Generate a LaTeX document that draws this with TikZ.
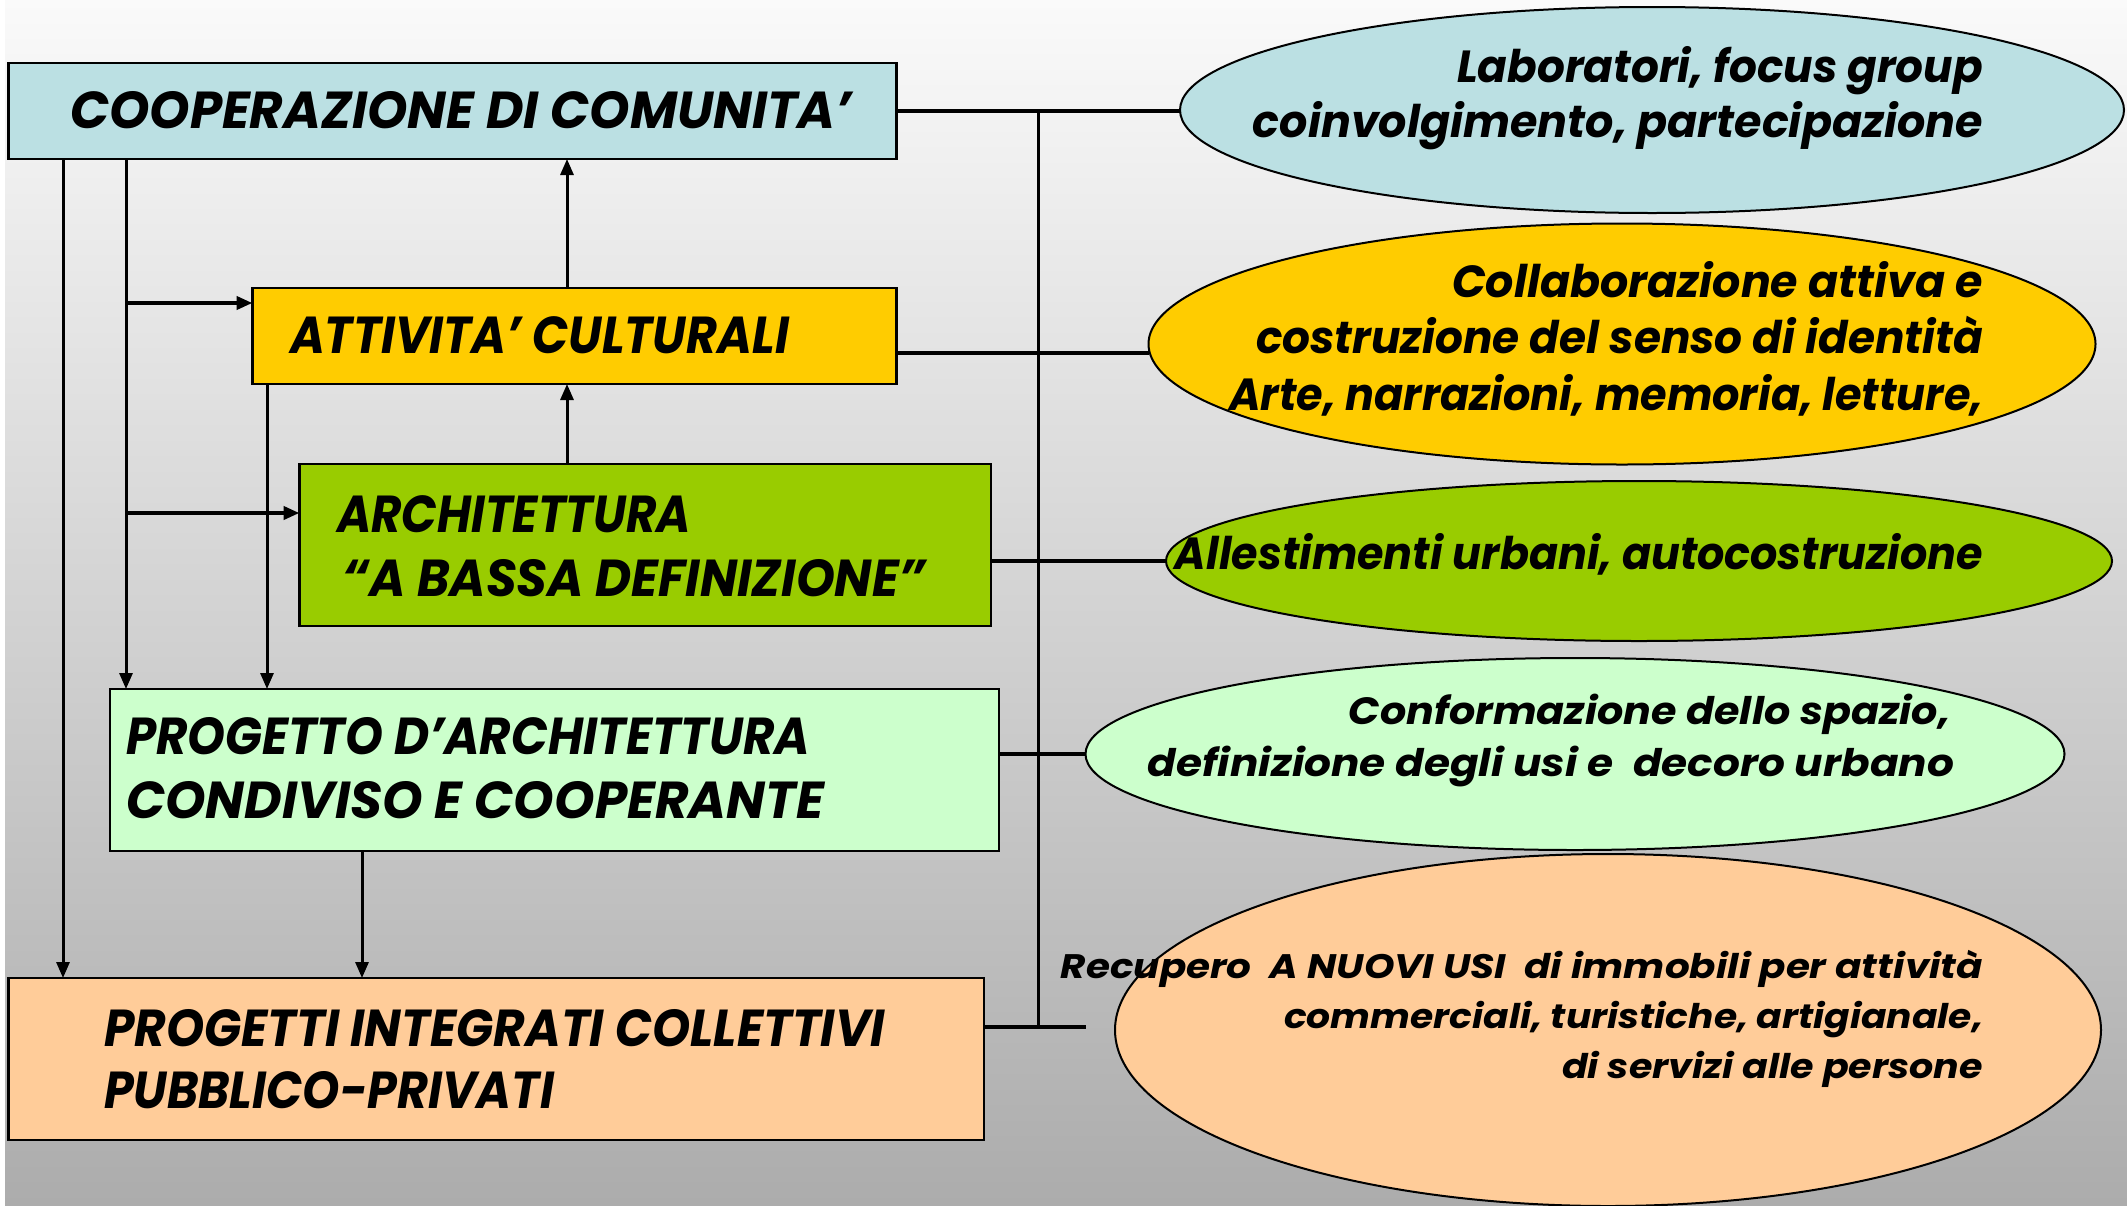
\documentclass[tikz,border=0pt]{standalone}
\usepackage{fontspec}
\setmainfont{Poppins}
\usetikzlibrary{arrows.meta,shapes.geometric}
\newcommand\fw[2]{\resizebox{#1pt}{\height}{#2}}
\definecolor{coopc}{RGB}{187,224,227}
\definecolor{attc}{RGB}{255,204,0}
\definecolor{archc}{RGB}{153,204,0}
\definecolor{progc}{RGB}{204,255,204}
\definecolor{picc}{RGB}{255,204,153}
\begin{document}
\begin{tikzpicture}[x=1pt,y=-1pt,
  every node/.style={inner sep=0pt, outer sep=0pt},
  box/.style={draw=black, line width=2.5pt, anchor=north west},
  oval/.style={ellipse, draw=black, line width=2pt},
  bt/.style={font=\fontsize{52}{62}\selectfont\bfseries\itshape},
  et/.style={font=\fontsize{45}{54}\selectfont\bfseries\itshape, anchor=base east},
  ft/.style={font=\fontsize{38}{46}\selectfont\bfseries\itshape, anchor=base east},
  gt/.style={font=\fontsize{34}{40}\selectfont\bfseries\itshape, anchor=base east},
  ln/.style={line width=3pt},
  thk/.style={line width=4pt},
  hv/.style={line width=4pt},
  tip/.style={-{Triangle[length=16pt,width=13pt]}}
]
\useasboundingbox (0,0) rectangle (2127,1205);
\fill[top color={rgb,255:red,250;green,250;blue,250}, middle color={rgb,255:red,224;green,224;blue,224}, bottom color={rgb,255:red,172;green,172;blue,172}] (5,0) rectangle (2127,1205);
\fill[white] (0,0) rectangle (5,1205);

% boxes
\node[box, fill=coopc, minimum width=888pt, minimum height=96pt] (coop) at (8.5,63) {};
\node[box, fill=attc, minimum width=644pt, minimum height=96pt] (att) at (252.5,288) {};
\node[box, fill=archc, minimum width=691.5pt, minimum height=162pt] (arch) at (299.5,464) {};
\node[box, fill=progc, minimum width=889pt, minimum height=162pt] (prog) at (110,689) {};
\node[box, fill=picc, minimum width=975.5pt, minimum height=162pt] (pic) at (8.5,978) {};

% box texts
\node[bt, anchor=base west] (coopT) at (70,128) {\fw{782}{COOPERAZIONE DI COMUNITA’}};
\node[bt, anchor=base west] (attT) at (290,353) {\fw{499}{ATTIVITA’ CULTURALI}};
\node[bt, anchor=base west] (archT1) at (337,532) {\fw{354}{ARCHITETTURA}};
\node[bt, anchor=base west] (archT2) at (342,596) {\fw{584}{“A BASSA DEFINIZIONE”}};
\node[bt, anchor=base west] (progT1) at (126,754) {\fw{684}{PROGETTO D’ARCHITETTURA}};
\node[bt, anchor=base west] (progT2) at (126,818) {\fw{698}{CONDIVISO E COOPERANTE}};
\node[bt, anchor=base west] (picT1) at (104,1046) {\fw{781}{PROGETTI INTEGRATI COLLETTIVI}};
\node[bt, anchor=base west] (picT2) at (104,1108) {\fw{450}{PUBBLICO-PRIVATI}};

% ellipses
\node[oval, fill=coopc, minimum width=944pt, minimum height=206pt] (e1) at (1652,110) {};
\node[oval, fill=attc, minimum width=947pt, minimum height=241pt] (e2) at (1622,344) {};
\node[oval, fill=archc, minimum width=946pt, minimum height=160pt] (e3) at (1639,561) {};
\node[oval, fill=progc, minimum width=979pt, minimum height=192pt] (e4) at (1575,754) {};
\node[oval, fill=picc, minimum width=986pt, minimum height=352pt] (e5) at (1608,1030) {};

% ellipse texts
\node[et] (e1a) at (1983,82) {\fw{526}{Laboratori, focus group}};
\node[et] (e1b) at (1983,137) {\fw{730}{coinvolgimento, partecipazione}};
\node[et] (e2a) at (1983,297) {\fw{531}{Collaborazione attiva e}};
\node[et] (e2b) at (1983,353) {\fw{727}{costruzione del senso di identità}};
\node[et] (e2c) at (1983,410) {\fw{754}{Arte, narrazioni, memoria, letture,}};
\node[et] (e3a) at (1983,569) {\fw{808}{Allestimenti urbani, autocostruzione}};
\node[ft] (e4a) at (1950,724) {\fw{601}{Conformazione dello spazio,}};
\node[ft] (e4b) at (1954,776) {\fw{806}{definizione degli usi e\ \ decoro urbano}};
\node[gt] (e5a) at (1983,978) {\fw{922}{Recupero\ \ A NUOVI USI\ \ di immobili per attività}};
\node[gt] (e5b) at (1983,1028) {\fw{699}{commerciali, turistiche, artigianale,}};
\node[gt] (e5c) at (1983,1078) {\fw{421}{di servizi alle persone}};

% helper coordinates
\coordinate (xa) at (63,0);
\coordinate (xb) at (126,0);
\coordinate (xc) at (267,0);
\coordinate (xd) at (567,0);
\coordinate (xe) at (362,0);
\coordinate (bus) at (1038,0);
\coordinate (ya) at (0,303);
\coordinate (yb) at (0,513);
\coordinate (yc) at (0,353);
\coordinate (pend) at (1086,1027);

% left connectors
\draw[ln, tip] (xa |- coop.south) -- (xa |- pic.north);
\draw[ln, tip] (xb |- coop.south) -- (xb |- prog.north);
\draw[thk, tip] (xb |- ya) -- (att.west |- ya);
\draw[thk, tip] (xb |- yb) -- (arch.west |- yb);
\draw[ln, tip] (xc |- att.south) -- (xc |- prog.north);
\draw[ln, tip] (att.north -| xd) -- (coop.south -| xd);
\draw[ln, tip] (arch.north -| xd) -- (att.south -| xd);
\draw[ln, tip] (xe |- prog.south) -- (xe |- pic.north);

% right connectors
\draw[hv] (coop.east) -- (coop.east -| e1.west);
\draw[hv] (att.east |- yc) -- (e2.west |- yc);
\draw[hv] (arch.east |- e3.west) -- (e3.west);
\draw[hv] (prog.east |- e4.west) -- (e4.west);
\draw[hv] (pic.east |- pend) -- (pend);
\draw[ln] (bus |- coop.east) -- (bus |- pend);
\end{tikzpicture}
\end{document}
